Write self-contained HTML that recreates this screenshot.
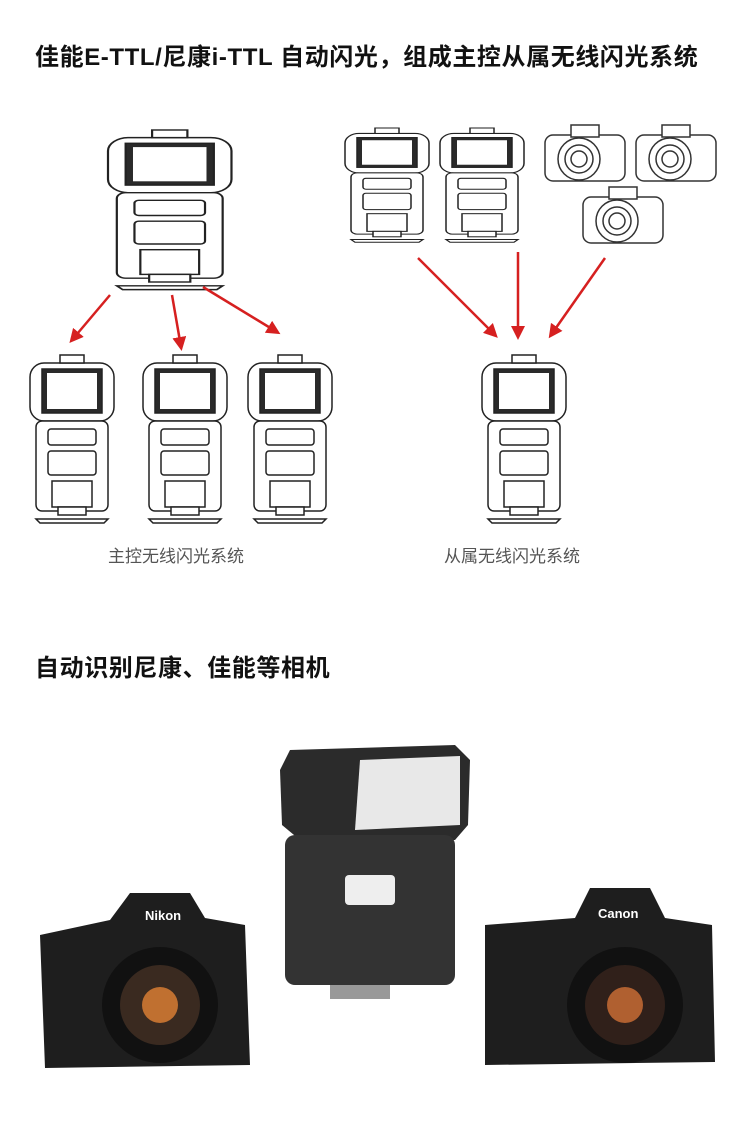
<!DOCTYPE html>
<html><head><meta charset="utf-8"><style>
body{margin:0;background:#fff;width:750px;height:1139px;overflow:hidden;position:relative;font-family:"Liberation Sans","Noto Sans CJK SC",sans-serif}
.t{position:absolute;left:35px;font-weight:bold;font-size:24px;letter-spacing:0.6px;color:#111;white-space:nowrap}
.l{position:absolute;font-size:17px;color:#555;white-space:nowrap}
svg{position:absolute;left:0;top:0}
</style></head><body>
<div class="t" style="top:37px">佳能E-TTL/尼康i-TTL 自动闪光，组成主控从属无线闪光系统</div>
<div class="l" style="left:108px;top:542px">主控无线闪光系统</div>
<div class="l" style="left:444px;top:542px">从属无线闪光系统</div>
<div class="t" style="top:648px">自动识别尼康、佳能等相机</div>
<svg width="750" height="1139" viewBox="0 0 750 1139">
<defs>
<g id="fl" fill="#fff" stroke="#222" stroke-width="1.5">
<rect x="0" y="8" width="84" height="58" rx="14"/>
<rect x="12" y="14" width="60" height="44" fill="#2a2a2a"/>
<rect x="17" y="18" width="50" height="36" fill="#fff" stroke="none"/>
<rect x="6" y="66" width="72" height="90" rx="6"/>
<rect x="18" y="74" width="48" height="16" rx="3"/>
<rect x="18" y="96" width="48" height="24" rx="3"/>
<rect x="22" y="126" width="40" height="26"/>
<rect x="28" y="152" width="28" height="8"/>
<path d="M10 168 L74 168 L78 164 L6 164 Z"/>
<rect x="30" y="0" width="24" height="8"/>
</g>
<g id="cam" fill="#fff" stroke="#333" stroke-width="1.5">
<rect x="0" y="12" width="80" height="46" rx="8"/>
<rect x="26" y="2" width="28" height="12"/>
<circle cx="34" cy="36" r="21"/><circle cx="34" cy="36" r="14"/><circle cx="34" cy="36" r="8"/>
</g>
<marker id="ar" markerWidth="14" markerHeight="14" refX="10" refY="7" orient="auto" markerUnits="userSpaceOnUse" viewBox="0 0 14 14"><path d="M0 0L14 7L0 14Z" fill="#d62020"/></marker>
</defs>
<g transform="translate(108,130) scale(1.47,0.95)"><use href="#fl"/></g>
<use href="#fl" transform="translate(30,355)"/>
<use href="#fl" transform="translate(143,355)"/>
<use href="#fl" transform="translate(248,355)"/>
<use href="#fl" transform="translate(482,355)"/>
<g transform="translate(345,128) scale(1,0.68)"><use href="#fl"/></g>
<g transform="translate(440,128) scale(1,0.68)"><use href="#fl"/></g>
<use href="#cam" transform="translate(545,123)"/>
<use href="#cam" transform="translate(636,123)"/>
<use href="#cam" transform="translate(583,185)"/>
<g stroke="#d62020" stroke-width="2.5" fill="none">
<line x1="110" y1="295" x2="72" y2="340" marker-end="url(#ar)"/>
<line x1="172" y1="295" x2="181" y2="347" marker-end="url(#ar)"/>
<line x1="203" y1="287" x2="277" y2="332" marker-end="url(#ar)"/>
<line x1="418" y1="258" x2="495" y2="335" marker-end="url(#ar)"/>
<line x1="518" y1="252" x2="518" y2="336" marker-end="url(#ar)"/>
<line x1="605" y1="258" x2="551" y2="335" marker-end="url(#ar)"/>
</g>
<path d="M290 750 L455 745 L470 760 L468 825 L455 840 L300 840 L282 825 L280 770 Z" fill="#2b2b2b"/>
<path d="M360 760 L460 756 L460 825 L355 830 Z" fill="#e8e8e8"/>
<rect x="285" y="835" width="170" height="150" rx="10" fill="#333"/>
<rect x="345" y="875" width="50" height="30" rx="4" fill="#eee"/>
<rect x="330" y="985" width="60" height="14" fill="#999"/>
<path d="M40 935 L110 920 L130 893 L190 893 L205 918 L245 925 L250 1065 L45 1068 Z" fill="#1e1e1e"/>
<circle cx="160" cy="1005" r="58" fill="#111"/><circle cx="160" cy="1005" r="40" fill="#3a2a20"/><circle cx="160" cy="1005" r="18" fill="#c07030"/>
<text x="145" y="920" fill="#fff" font-size="13" font-weight="bold" font-family="Liberation Sans">Nikon</text>
<path d="M485 925 L575 918 L590 888 L650 888 L665 918 L712 925 L715 1062 L485 1065 Z" fill="#1e1e1e"/>
<circle cx="625" cy="1005" r="58" fill="#111"/><circle cx="625" cy="1005" r="40" fill="#30201a"/><circle cx="625" cy="1005" r="18" fill="#b06030"/>
<text x="598" y="918" fill="#fff" font-size="13" font-weight="bold" font-family="Liberation Sans">Canon</text>
</svg>
</body></html>
